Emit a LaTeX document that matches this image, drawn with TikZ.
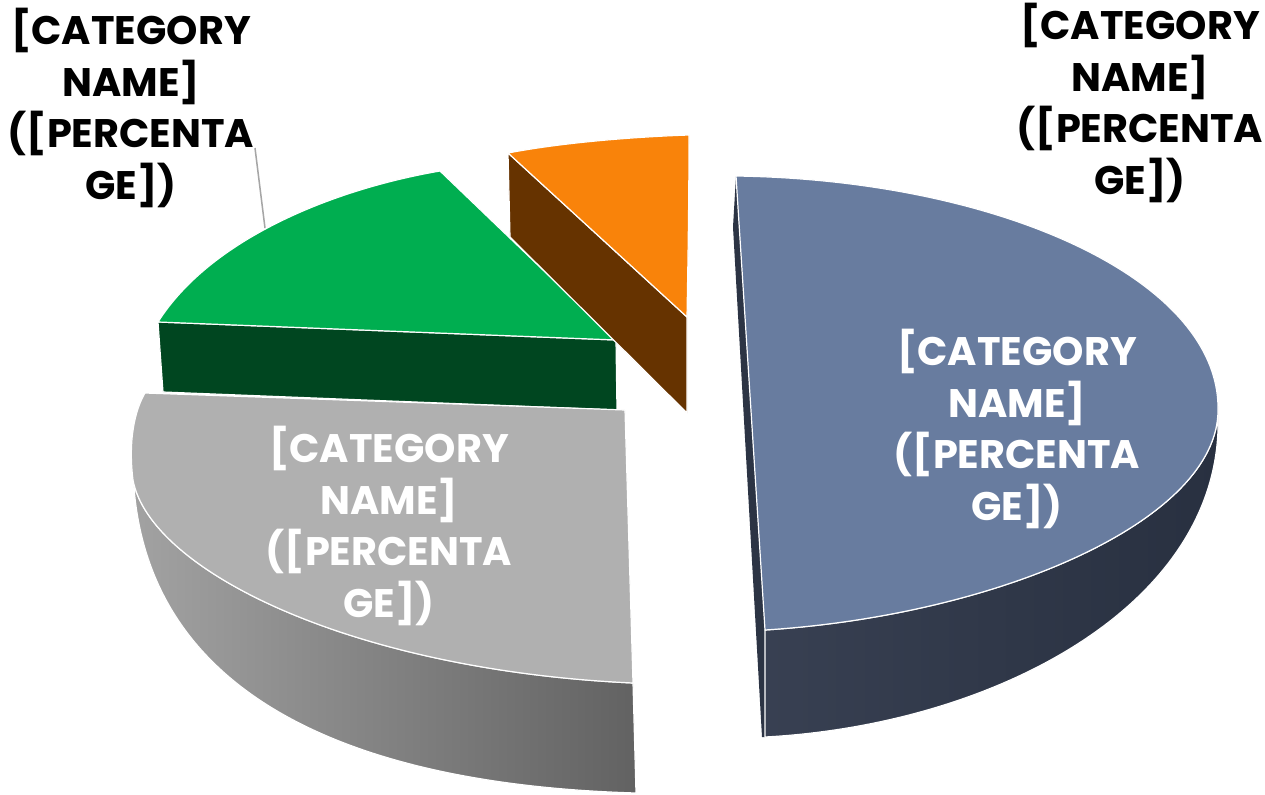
\documentclass[tikz,border=0pt]{standalone}
\usepackage{fontspec}
\setmainfont{Poppins}
\definecolor{bluetop}{RGB}{104,124,159}
\definecolor{blueside}{RGB}{44,52,68}
\definecolor{bluesideL}{RGB}{56,64,82}
\definecolor{bluesideR}{RGB}{40,48,64}
\definecolor{graytop}{RGB}{176,176,176}
\definecolor{graysideL}{RGB}{162,162,162}
\definecolor{graysideR}{RGB}{98,98,98}
\definecolor{greentop}{RGB}{0,174,80}
\definecolor{greenside}{RGB}{0,70,32}
\definecolor{orangetop}{RGB}{249,131,10}
\definecolor{brownside}{RGB}{102,51,0}
\definecolor{leader}{RGB}{166,166,166}
\tikzset{
  face/.style={draw=white, line width=1.2bp, line join=round},
  lab/.style={align=center, font=\bfseries\fontsize{40}{52}\selectfont, inner sep=0pt},
}
\begin{document}
\begin{tikzpicture}[x=1bp,y=-1bp]
\useasboundingbox (0,0) rectangle (1265,795);
\fill[white] (0,0) rectangle (1265,795);
% green slice
\fill[face, fill=greenside] (158,322) -- (616,340) -- (617,410) -- (163,392) -- cycle;
\fill[face, fill=greentop] (440,171) .. controls (330,190) and (210,240) .. (158,322) -- (616,340) -- cycle;
% orange slice
\fill[face, fill=brownside] (508,153) -- (687,317) -- (687,413) -- (510,237) -- cycle;
\fill[face, fill=orangetop] (508,153) .. controls (560,143) and (630,137) .. (689,135) .. controls (689,200) and (688,260) .. (687,317) -- cycle;
% gray slice
\shade[face, left color=graysideL, right color=graysideR] (633,683) .. controls (350,670) and (150,570) .. (133,480) -- (133,470) .. controls (140,700) and (360,785) .. (636,793) -- cycle;
\fill[face, fill=graytop] (145,393) -- (625,410) -- (633,683) .. controls (350,670) and (150,570) .. (133,480) .. controls (128,440) and (135,410) .. (145,393) -- cycle;
% blue slice
\fill[fill=blueside] (736,176) -- (733,227) -- (762,737) -- (765,737) -- (765,630) -- cycle;
\shade[face, left color=bluesideL, right color=bluesideR] (1218,410) .. controls (1218,520) and (1000,615) .. (765,630) -- (765,737) .. controls (990,725) and (1212,610) .. (1218,430) -- cycle;
\fill[face, fill=bluetop] (736,176) .. controls (1000,180) and (1220,280) .. (1218,410) .. controls (1218,520) and (1000,615) .. (765,630) -- cycle;
% labels
\node[lab] (tl) at (131,108) {[CATEGORY\\NAME]\\([PERCENTA\\GE])};
\node[lab] (tr) at (1140,103) {[CATEGORY\\NAME]\\([PERCENTA\\GE])};
\node[lab, text=white] (bl) at (1017,429) {[CATEGORY\\NAME]\\([PERCENTA\\GE])};
\node[lab, text=white] (gl) at (389,526) {[CATEGORY\\NAME]\\([PERCENTA\\GE])};
% leader line
\coordinate (l1) at (255,148);
\coordinate (l2) at (265,228);
\draw[leader, line width=1.5bp] (l1) -- (l2);
\end{tikzpicture}
\end{document}
